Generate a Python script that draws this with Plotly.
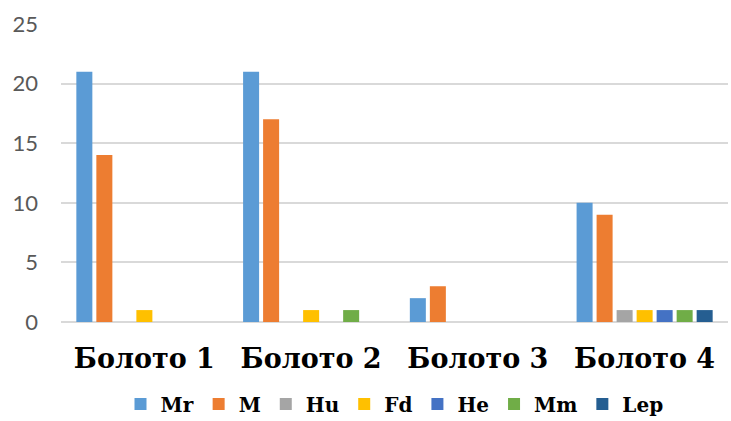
import plotly.graph_objects as go

categories = ["Болото 1", "Болото 2", "Болото 3", "Болото 4"]
series_names = ["Mr", "M", "Hu", "Fd", "He", "Mm", "Lep"]
mr = [21, 21, 2, 10]
m = [14, 17, 3, 9]
hu = [0, 0, 0, 1]
fd = [1, 1, 0, 1]
he = [0, 0, 0, 1]
mm = [0, 1, 0, 1]
lep = [0, 0, 0, 1]
y_ticks = [0, 5, 10, 15, 20, 25]

series_values = [mr, m, hu, fd, he, mm, lep]
colors = ["#5B9BD5", "#ED7D31", "#A5A5A5", "#FFC000", "#4472C4", "#70AD47", "#255E91"]

fig = go.Figure()
for name, vals, col in zip(series_names, series_values, colors):
    fig.add_trace(go.Bar(
        x=categories, y=vals, name=name,
        marker=dict(color=col, line=dict(width=0)),
    ))

fig.update_layout(
    width=731, height=421,
    margin=dict(l=61, r=3, t=24, b=99, autoexpand=False),
    paper_bgcolor="white", plot_bgcolor="white",
    barmode="group", bargap=0.16, bargroupgap=0.2,
    showlegend=True,
    legend=dict(
        orientation="h", x=0.5, xanchor="center", y=-0.275, yanchor="middle",
        font=dict(family="DejaVu Serif", size=20, color="#000000", weight="bold"),
        itemsizing="constant", traceorder="normal", borderwidth=0,
    ),
    xaxis=dict(
        automargin=False,
        showgrid=False, zeroline=False, showline=False, ticks="",
        tickfont=dict(family="DejaVu Serif", size=27, color="#000000", weight="bold"),
        ticklabelstandoff=18,
    ),
    yaxis=dict(
        automargin=False,
        range=[0, 25], tickvals=y_ticks, showgrid=True, gridcolor="#D9D9D9",
        gridwidth=1.5, zeroline=True, zerolinecolor="#D9D9D9", zerolinewidth=1.5,
        showline=False, ticks="",
        tickfont=dict(family="Lato", size=22, color="#595959"),
        ticklabelstandoff=22,
    ),
)

fig.write_html("out.html")
